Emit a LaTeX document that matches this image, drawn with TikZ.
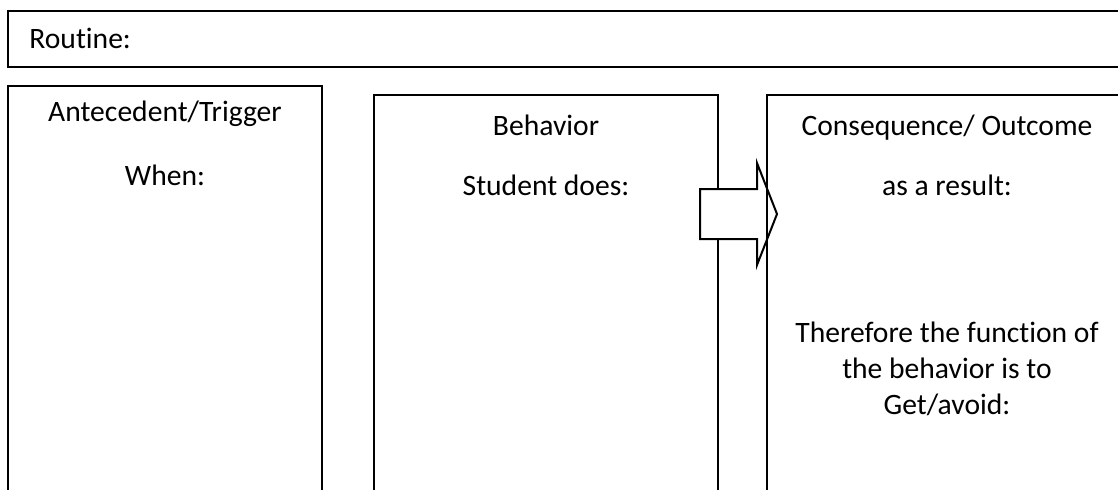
\documentclass[tikz,border=0pt]{standalone}
\usepackage{fontspec}
\setmainfont{Carlito}[Ligatures=NoCommon]
\usepackage{tikz}
\usetikzlibrary{calc}

\begin{document}
\begin{tikzpicture}[x=0.5pt, y=-0.5pt,
  panel/.style={draw, line width=1pt},
  txt/.style={font=\fontsize{14.8}{18}\selectfont, inner sep=0pt, anchor=base}]
  \useasboundingbox (0,0) rectangle (1118,489);
  \clip (0,0) rectangle (1118,489);
  % routine bar
  \draw[panel] (8,11) rectangle (1140,67);
  \node[txt, anchor=base west] (routine) at (29,48.5) {Routine:};
  % antecedent and behavior panels
  \draw[panel] (8,86) rectangle (322,510);
  \draw[panel] (374,95) rectangle (718,510);
  % block arrow between behavior and consequence
  \coordinate (tail) at (700,214);
  \coordinate (tip) at (777,214);
  \draw[line width=1pt, fill=white, line join=miter]
    ($(tail)+(0,-25)$) -- ++(57,0) -- ++(0,-26) -- (tip) -- ++(-20,51) -- ++(0,-26)
    -- ($(tail)+(0,25)$) -- cycle;
  % consequence panel
  \draw[panel] (767,95) rectangle (1140,510);
  \node[txt] (ante) at (165,121) {Antecedent/Trigger};
  \node[txt] (when) at (165,185) {When:};
  \node[txt] (behav) at (546,135) {Behavior};
  \node[txt] (does) at (546,195) {Student does:};
  \node[txt] (conseq) at (947,135) {Consequence/ Outcome};
  \node[txt] (result) at (947,195) {as a result:};
  \node[txt] (func1) at (947,342) {Therefore the function of};
  \node[txt] (func2) at (947,378) {the behavior is to};
  \node[txt] (func3) at (947,414) {Get/avoid:};
\end{tikzpicture}
\end{document}
